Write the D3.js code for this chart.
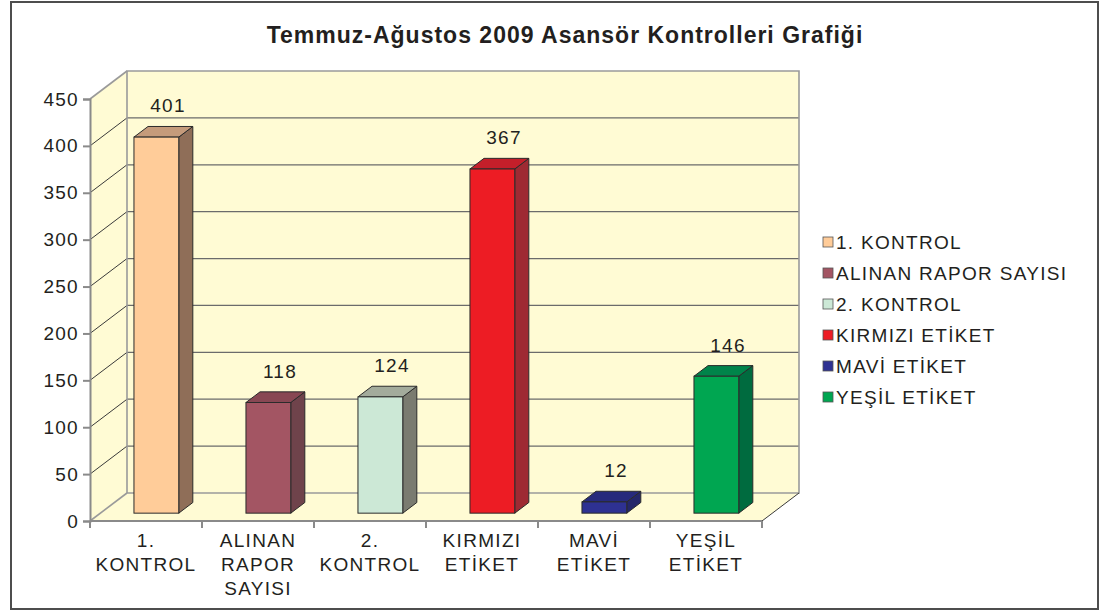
<!DOCTYPE html>
<html>
<head>
<meta charset="utf-8">
<script src="https://cdn.jsdelivr.net/npm/d3@7"></script>
<style>
  body { margin: 0; background: #fff; }
  text { font-family: "Liberation Sans", Arial, sans-serif; fill: #231f20; }
  .lbl { font-size: 19px; letter-spacing: 1.3px; }
</style>
</head>
<body>
<div id="chart"></div>
<script>
// chart data
var categories = ["1. KONTROL", "ALINAN RAPOR SAYISI", "2. KONTROL", "KIRMIZI ETİKET", "MAVİ ETİKET", "YEŞİL ETİKET"];
var axisLabels = [["1.", "KONTROL"], ["ALINAN", "RAPOR", "SAYISI"], ["2.", "KONTROL"], ["KIRMIZI", "ETİKET"], ["MAVİ", "ETİKET"], ["YEŞİL", "ETİKET"]];
var values = [401, 118, 124, 367, 12, 146];
var yTicks = [0, 50, 100, 150, 200, 250, 300, 350, 400, 450];

// face colours: front, top, side
var frontColors = ["#FFCC99", "#A35563", "#CCE8D6", "#ED1C24", "#2E3192", "#00A651"];
var topColors   = ["#C59B7B", "#884753", "#A3AB9C", "#C41F2A", "#272A7C", "#00844A"];
var sideColors  = ["#8F6E58", "#6F434B", "#7A7B70", "#9E2A33", "#25276A", "#006B3F"];

var svg = d3.select("#chart").append("svg")
    .attr("width", 1100)
    .attr("height", 611);

// outer frame
svg.append("rect")
    .attr("x", 11).attr("y", 2)
    .attr("width", 1087).attr("height", 607)
    .attr("fill", "#fff")
    .attr("stroke", "#4d4d4d")
    .attr("stroke-width", 2);

svg.append("text")
    .attr("x", 565)
    .attr("y", 43)
    .attr("text-anchor", "middle")
    .style("font-size", "23px")
    .style("letter-spacing", "1px")
    .style("font-weight", "bold")
    .text("Temmuz-Ağustos 2009 Asansör Kontrolleri Grafiği");

// front plane scales, depth offset of the walls
var x = d3.scaleBand().domain(categories).range([90, 762]).padding(0);
var y = d3.scaleLinear().domain([0, 450]).range([521, 99]);
var depth = { dx: 37, dy: -28 };

function off(t) { return [depth.dx * t, depth.dy * t]; }

var wallFill = "#FFFBD4";
var wallLine = "#9a9a9a";
var y0 = y(0), yTop = y(450), xL = x.range()[0], xR = x.range()[1];

// walls
svg.append("polygon")
    .attr("points", [[xL, y0], [xL, yTop], [xL + depth.dx, yTop + depth.dy], [xL + depth.dx, y0 + depth.dy]].join(" "))
    .attr("fill", wallFill);
svg.append("polygon")
    .attr("points", [[xL + depth.dx, yTop + depth.dy], [xR + depth.dx, yTop + depth.dy], [xR + depth.dx, y0 + depth.dy], [xL + depth.dx, y0 + depth.dy]].join(" "))
    .attr("fill", wallFill);
svg.append("polygon")
    .attr("points", [[xL, y0], [xR, y0], [xR + depth.dx, y0 + depth.dy], [xL + depth.dx, y0 + depth.dy]].join(" "))
    .attr("fill", wallFill);

// gridlines on back wall + left wall diagonals
svg.selectAll(".grid")
    .data(yTicks.filter(function(d) { return d > 0 && d < 450; }))
    .enter().append("line")
    .attr("class", "grid")
    .attr("x1", xL + depth.dx).attr("x2", xR + depth.dx)
    .attr("y1", function(d) { return y(d) + depth.dy; })
    .attr("y2", function(d) { return y(d) + depth.dy; })
    .attr("stroke", "#6b6b6b").attr("stroke-width", 1.3);

svg.selectAll(".diag")
    .data(yTicks)
    .enter().append("line")
    .attr("class", "diag")
    .attr("x1", xL).attr("x2", xL + depth.dx)
    .attr("y1", function(d) { return y(d); })
    .attr("y2", function(d) { return y(d) + depth.dy; })
    .attr("stroke", function(d) { return d == 0 || d == 450 ? wallLine : "#3a3a3a"; })
    .attr("stroke-width", function(d) { return d == 0 || d == 450 ? 1.6 : 1; });

// wall borders
svg.append("polyline")
    .attr("points", [[xL + depth.dx, y0 + depth.dy], [xL + depth.dx, yTop + depth.dy], [xR + depth.dx, yTop + depth.dy], [xR + depth.dx, y0 + depth.dy], [xL + depth.dx, y0 + depth.dy]].join(" "))
    .attr("fill", "none").attr("stroke", wallLine).attr("stroke-width", 1.6);
svg.append("line")
    .attr("x1", xR).attr("y1", y0).attr("x2", xR + depth.dx).attr("y2", y0 + depth.dy)
    .attr("stroke", "#3a3a3a").attr("stroke-width", 1);

// bars (front face sits partway into the depth)
var bw = x.bandwidth() * 0.4;
var f0 = off(0.28), bd = off(0.38);

var bars = svg.selectAll(".bar")
    .data(values)
    .enter().append("g")
    .attr("class", "bar");

bars.append("polygon")
    .attr("points", function(d, i) {
        var l = x(categories[i]) + (x.bandwidth() - bw) / 2 + f0[0], t = y(d) + f0[1], b = y(0) + f0[1];
        return [[l + bw, t], [l + bw + bd[0], t + bd[1]], [l + bw + bd[0], b + bd[1]], [l + bw, b]].join(" ");
    })
    .attr("fill", function(d, i) { return sideColors[i]; })
    .attr("stroke", "#2b2b2b").attr("stroke-width", 1).attr("stroke-linejoin", "round");

bars.append("polygon")
    .attr("points", function(d, i) {
        var l = x(categories[i]) + (x.bandwidth() - bw) / 2 + f0[0], t = y(d) + f0[1];
        return [[l, t], [l + bd[0], t + bd[1]], [l + bw + bd[0], t + bd[1]], [l + bw, t]].join(" ");
    })
    .attr("fill", function(d, i) { return topColors[i]; })
    .attr("stroke", "#2b2b2b").attr("stroke-width", 1).attr("stroke-linejoin", "round");

bars.append("rect")
    .attr("x", function(d, i) { return x(categories[i]) + (x.bandwidth() - bw) / 2 + f0[0]; })
    .attr("y", function(d) { return y(d) + f0[1]; })
    .attr("width", bw)
    .attr("height", function(d) { return y(0) - y(d); })
    .attr("fill", function(d, i) { return frontColors[i]; })
    .attr("stroke", "#2b2b2b").attr("stroke-width", 1);

// value labels
bars.append("text")
    .attr("class", "lbl")
    .attr("x", function(d, i) { return x(categories[i]) + x.bandwidth() / 2 + 22; })
    .attr("y", function(d) { return y(d) + f0[1] + bd[1] - 14; })
    .attr("text-anchor", "middle")
    .text(function(d) { return d; });

// y axis
var yAxis = d3.axisLeft(y).tickValues(yTicks).tickSize(7).tickPadding(4);
var gy = svg.append("g")
    .attr("transform", "translate(" + xL + ",0)")
    .call(yAxis);
gy.select(".domain").attr("stroke", "#8a8a8a").attr("stroke-width", 2);
gy.selectAll(".tick line").attr("stroke", "#8a8a8a").attr("stroke-width", 2);
gy.selectAll(".tick text")
    .attr("class", "lbl")
    .style("font-family", "'Liberation Sans', Arial, sans-serif")
    .attr("fill", "#231f20");

// x axis
var gx = svg.append("g")
    .attr("transform", "translate(0," + y0 + ")");
gx.append("line")
    .attr("x1", xL).attr("x2", xR)
    .attr("stroke", "#8a8a8a").attr("stroke-width", 2);
gx.selectAll(".xtick")
    .data(categories.concat([null]))
    .enter().append("line")
    .attr("class", "xtick")
    .attr("x1", function(d, i) { return xL + i * x.bandwidth(); })
    .attr("x2", function(d, i) { return xL + i * x.bandwidth(); })
    .attr("y1", 0).attr("y2", 7)
    .attr("stroke", "#8a8a8a").attr("stroke-width", 2);

gx.selectAll(".xlab")
    .data(axisLabels)
    .enter().append("text")
    .attr("class", "xlab lbl")
    .attr("text-anchor", "middle")
    .each(function(lines, i) {
        var cx = x(categories[i]) + x.bandwidth() / 2;
        d3.select(this).selectAll("tspan")
            .data(lines)
            .enter().append("tspan")
            .attr("x", cx)
            .attr("y", function(d, j) { return 26 + j * 24; })
            .text(function(d) { return d; });
    });

// legend
var legend = svg.selectAll(".legend")
    .data(categories)
    .enter().append("g")
    .attr("class", "legend")
    .attr("transform", function(d, i) { return "translate(823," + (242 + i * 31) + ")"; });

legend.append("rect")
    .attr("x", 0).attr("y", -5)
    .attr("width", 10).attr("height", 10)
    .attr("fill", function(d, i) { return frontColors[i]; })
    .attr("stroke", "#555").attr("stroke-width", 0.8);

legend.append("text")
    .attr("class", "lbl")
    .attr("x", 13)
    .attr("y", 7)
    .text(function(d) { return d; });
</script>
</body>
</html>
